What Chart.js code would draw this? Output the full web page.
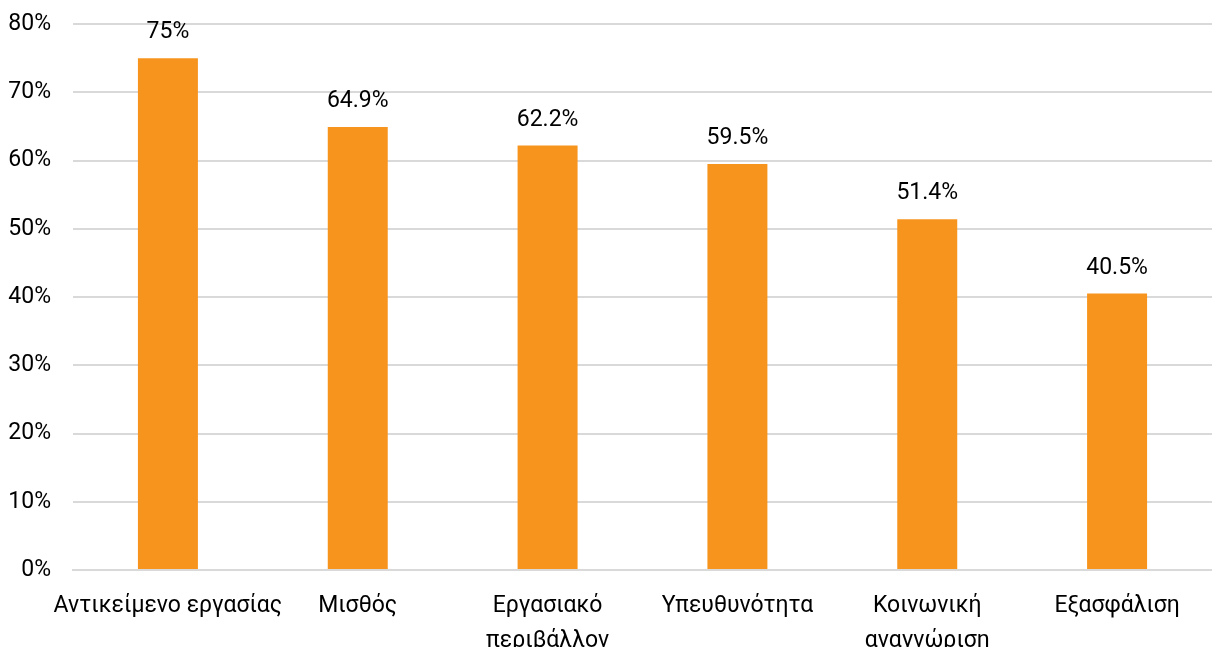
<!DOCTYPE html>
<html>
<head>
<meta charset="utf-8">
<script src="https://cdn.jsdelivr.net/npm/chart.js@4"></script>
<style>
  html, body { margin: 0; padding: 0; background: #fff; overflow: hidden; }
  #wrap { width: 1212px; height: 677px; }
</style>
</head>
<body>
<div id="wrap"><canvas id="chart" width="1212" height="677"></canvas></div>
<script>
const categories = [
    'Αντικείμενο εργασίας',
    'Μισθός',
    ['Εργασιακό', 'περιβάλλον'],
    'Υπευθυνότητα',
    ['Κοινωνική', 'αναγνώριση'],
    'Εξασφάλιση'
];
const values = [75, 64.9, 62.2, 59.5, 51.4, 40.5];

const FONT = 'Roboto, "Noto Sans", sans-serif';
const SIZE = 23;

// draws the value above each bar
const valueLabels = {
    id: 'valueLabels',
    afterDatasetsDraw(chart) {
        const ctx = chart.ctx;
        const meta = chart.getDatasetMeta(0);
        ctx.save();
        ctx.font = SIZE + 'px ' + FONT;
        ctx.fillStyle = '#000';
        ctx.textAlign = 'center';
        ctx.textBaseline = 'bottom';
        meta.data.forEach((bar, i) => {
            ctx.fillText(values[i] + '%', bar.x, bar.y - 14);
        });
        ctx.restore();
    }
};

new Chart(document.getElementById('chart'), {
    type: 'bar',
    data: {
        labels: categories,
        datasets: [{
            data: values,
            backgroundColor: '#F7941D',
            borderWidth: 0,
            barPercentage: 0.316,
            categoryPercentage: 1
        }]
    },
    options: {
        responsive: false,
        animation: false,
        layout: { padding: { left: 8, top: 24, right: 0, bottom: 0 } },
        plugins: {
            legend: { display: false },
            tooltip: { enabled: false }
        },
        scales: {
            x: {
                grid: { display: false, drawTicks: false },
                border: { color: '#d9d9d9', width: 2 },
                ticks: {
                    color: '#000',
                    font: { family: FONT, size: SIZE, lineHeight: 1.5 },
                    padding: 19,
                    maxRotation: 0,
                    autoSkip: false
                },
                afterFit(scale) {
                    scale.paddingLeft = 0;
                    scale.paddingRight = 0;
                }
            },
            y: {
                min: 0,
                max: 80,
                grid: { color: '#d9d9d9', lineWidth: 2, drawTicks: false },
                border: { display: false },
                ticks: {
                    stepSize: 10,
                    color: '#000',
                    font: { family: FONT, size: SIZE },
                    padding: 22,
                    callback: v => v + '%'
                },
                afterFit(scale) {
                    scale.width = 65;
                    scale.paddingTop = 0;
                    scale.paddingBottom = 0;
                }
            }
        }
    },
    plugins: [valueLabels]
});
</script>
</body>
</html>
